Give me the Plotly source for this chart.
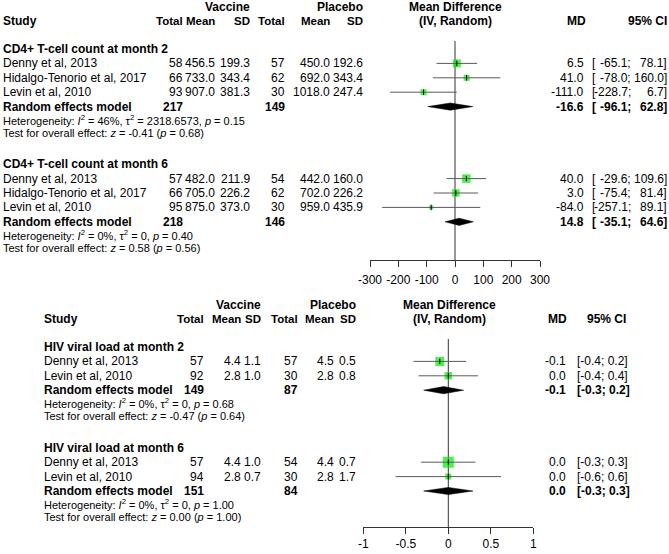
import plotly.graph_objects as go

FONT = "Liberation Sans, Arial, Helvetica, sans-serif"
W, H = 669, 554

# ------------------------------------------------------------------ data
cd4_studies = ["Denny et al, 2013", "Hidalgo-Tenorio et al, 2017", "Levin et al, 2010"]
hiv_studies = ["Denny et al, 2013", "Levin et al, 2010"]

# CD4+ T-cell count at month 2
cd4_m2_title = "CD4+ T-cell count at month 2"
cd4_m2_vac_n = [58, 66, 93]
cd4_m2_vac_mean = [456.5, 733.0, 907.0]
cd4_m2_vac_sd = [199.3, 343.4, 381.3]
cd4_m2_pla_n = [57, 62, 30]
cd4_m2_pla_mean = [450.0, 692.0, 1018.0]
cd4_m2_pla_sd = [192.6, 343.4, 247.4]
cd4_m2_md = [6.5, 41.0, -111.0]
cd4_m2_lo = [-65.1, -78.0, -228.7]
cd4_m2_hi = [78.1, 160.0, 6.7]
cd4_m2_pool = [-16.6, -96.1, 62.8]
cd4_m2_tot = [217, 149]
cd4_m2_het = ["46%", "2318.6573", "0.15"]
cd4_m2_test = ["-0.41", "0.68"]

# CD4+ T-cell count at month 6
cd4_m6_title = "CD4+ T-cell count at month 6"
cd4_m6_vac_n = [57, 66, 95]
cd4_m6_vac_mean = [482.0, 705.0, 875.0]
cd4_m6_vac_sd = [211.9, 226.2, 373.0]
cd4_m6_pla_n = [54, 62, 30]
cd4_m6_pla_mean = [442.0, 702.0, 959.0]
cd4_m6_pla_sd = [160.0, 226.2, 435.9]
cd4_m6_md = [40.0, 3.0, -84.0]
cd4_m6_lo = [-29.6, -75.4, -257.1]
cd4_m6_hi = [109.6, 81.4, 89.1]
cd4_m6_pool = [14.8, -35.1, 64.6]
cd4_m6_tot = [218, 146]
cd4_m6_het = ["0%", "0", "0.40"]
cd4_m6_test = ["0.58", "0.56"]

# HIV viral load at month 2
hiv_m2_title = "HIV viral load at month 2"
hiv_m2_vac_n = [57, 92]
hiv_m2_vac_mean = [4.4, 2.8]
hiv_m2_vac_sd = [1.1, 1.0]
hiv_m2_pla_n = [57, 30]
hiv_m2_pla_mean = [4.5, 2.8]
hiv_m2_pla_sd = [0.5, 0.8]
hiv_m2_md = [-0.1, 0.0]
hiv_m2_lo = [-0.41, -0.35]
hiv_m2_hi = [0.21, 0.35]
hiv_m2_ci_text = [["-0.4", "0.2"], ["-0.4", "0.4"]]
hiv_m2_pool = [-0.056, -0.29, 0.18]
hiv_m2_pool_text = ["-0.1", "-0.3", "0.2"]
hiv_m2_tot = [149, 87]
hiv_m2_het = ["0%", "0", "0.68"]
hiv_m2_test = ["-0.47", "0.64"]

# HIV viral load at month 6
hiv_m6_title = "HIV viral load at month 6"
hiv_m6_vac_n = [57, 94]
hiv_m6_vac_mean = [4.4, 2.8]
hiv_m6_vac_sd = [1.0, 0.7]
hiv_m6_pla_n = [54, 30]
hiv_m6_pla_mean = [4.4, 2.8]
hiv_m6_pla_sd = [0.7, 1.7]
hiv_m6_md = [0.0, 0.0]
hiv_m6_lo = [-0.32, -0.62]
hiv_m6_hi = [0.32, 0.62]
hiv_m6_ci_text = [["-0.3", "0.3"], ["-0.6", "0.6"]]
hiv_m6_pool = [0.0, -0.29, 0.29]
hiv_m6_pool_text = ["0.0", "-0.3", "0.3"]
hiv_m6_tot = [151, 84]
hiv_m6_het = ["0%", "0", "1.00"]
hiv_m6_test = ["0.00", "1.00"]

top_ticks = [-300, -200, -100, 0, 100, 200, 300]
bot_ticks = [-1, -0.5, 0, 0.5, 1]
bot_ticktext = ["-1", "-0.5", "0", "0.5", "1"]

# ------------------------------------------------------------------ styles
GREEN = "#00ee00"
LINE = "#5a5a5a"
ROW_PX = 14.4

groups_top = [
    dict(row=0, title=cd4_m2_title, studies=cd4_studies, vn=cd4_m2_vac_n, vm=cd4_m2_vac_mean,
         vs=cd4_m2_vac_sd, pn=cd4_m2_pla_n, pm=cd4_m2_pla_mean, ps=cd4_m2_pla_sd, md=cd4_m2_md,
         lo=cd4_m2_lo, hi=cd4_m2_hi, pool=cd4_m2_pool, tot=cd4_m2_tot, het=cd4_m2_het,
         test=cd4_m2_test, sizes=[8, 6, 6]),
    dict(row=8, title=cd4_m6_title, studies=cd4_studies, vn=cd4_m6_vac_n, vm=cd4_m6_vac_mean,
         vs=cd4_m6_vac_sd, pn=cd4_m6_pla_n, pm=cd4_m6_pla_mean, ps=cd4_m6_pla_sd, md=cd4_m6_md,
         lo=cd4_m6_lo, hi=cd4_m6_hi, pool=cd4_m6_pool, tot=cd4_m6_tot, het=cd4_m6_het,
         test=cd4_m6_test, sizes=[8.5, 7.5, 4]),
]
groups_bot = [
    dict(row=0, title=hiv_m2_title, studies=hiv_studies, vn=hiv_m2_vac_n, vm=hiv_m2_vac_mean,
         vs=hiv_m2_vac_sd, pn=hiv_m2_pla_n, pm=hiv_m2_pla_mean, ps=hiv_m2_pla_sd, md=hiv_m2_md,
         lo=hiv_m2_lo, hi=hiv_m2_hi, ci_text=hiv_m2_ci_text, pool=hiv_m2_pool,
         pool_text=hiv_m2_pool_text, tot=hiv_m2_tot, het=hiv_m2_het,
         test=hiv_m2_test, sizes=[9, 7.5]),
    dict(row=7, title=hiv_m6_title, studies=hiv_studies, vn=hiv_m6_vac_n, vm=hiv_m6_vac_mean,
         vs=hiv_m6_vac_sd, pn=hiv_m6_pla_n, pm=hiv_m6_pla_mean, ps=hiv_m6_pla_sd, md=hiv_m6_md,
         lo=hiv_m6_lo, hi=hiv_m6_hi, ci_text=hiv_m6_ci_text, pool=hiv_m6_pool,
         pool_text=hiv_m6_pool_text, tot=hiv_m6_tot, het=hiv_m6_het,
         test=hiv_m6_test, sizes=[11, 6]),
]

top_cols = dict(study=2, vn=184, vm=216, vs=251, pn=286, pm=331, ps=364, md=585,
                ci_l=590.5, ci_mid=632, ci_r=667.5, split_ci=True, hdr_md=587, hdr_ci=668,
                center=455, top_row0=49, axis_px=260, zero_top=41)
bot_cols = dict(study=43, vn=205, vm=242, vs=262, pn=299, pm=335, ps=357, md=567,
                ci_l=576, split_ci=False, hdr_md=568, hdr_ci=627,
                center=449, top_row0=347, axis_px=527, zero_top=339)

fig = go.Figure()
anns = []
shapes = []


def add(x, row, text, anchor, yref, size=12, bold=False):
    if bold:
        text = f"<b>{text}</b>"
    anns.append(dict(x=x / W, xref="paper", y=row, yref=yref, text=text, showarrow=False,
                     xanchor=anchor, yanchor="middle", borderpad=0,
                     font=dict(family=FONT, size=size, color="black")))


def build(groups, cols, xref, yref):
    c = cols
    h1, h2 = -2.95, -1.95
    add(c["vs"], h1, "Vaccine", "right", yref, bold=True)
    add(c["ps"], h1, "Placebo", "right", yref, bold=True)
    add(c["center"], h1, "Mean Difference", "center", yref, bold=True)
    add(c["center"], h2, "(IV, Random)", "center", yref, bold=True)
    add(c["study"], h2, "Study", "left", yref, bold=True)
    for key, lab in [("vn", "Total"), ("vm", "Mean"), ("vs", "SD"),
                     ("pn", "Total"), ("pm", "Mean"), ("ps", "SD")]:
        add(c[key], h2, lab, "right", yref, size=11.5, bold=True)
    add(c["hdr_md"], h2, "MD", "right", yref, bold=True)
    add(c["hdr_ci"], h2, "95% CI", "right", yref, bold=True)

    lx, ly, sx, sy, ss = [], [], [], [], []
    for g in groups:
        r0 = g["row"]
        add(c["study"], r0, g["title"], "left", yref, bold=True)
        for i, name in enumerate(g["studies"]):
            r = r0 + 1 + i
            add(c["study"], r, name, "left", yref)
            add(c["vn"], r, str(g["vn"][i]), "right", yref)
            add(c["vm"], r, f"{g['vm'][i]:.1f}", "right", yref)
            add(c["vs"], r, f"{g['vs'][i]:.1f}", "right", yref)
            add(c["pn"], r, str(g["pn"][i]), "right", yref)
            add(c["pm"], r, f"{g['pm'][i]:.1f}", "right", yref)
            add(c["ps"], r, f"{g['ps'][i]:.1f}", "right", yref)
            add(c["md"], r, f"{g['md'][i]:.1f}", "right", yref)
            if c["split_ci"]:
                add(c["ci_l"], r, "[", "left", yref)
                add(c["ci_mid"], r, f"{g['lo'][i]:.1f};", "right", yref)
                add(c["ci_r"], r, f"{g['hi'][i]:.1f}]", "right", yref)
            else:
                lo_s, hi_s = g["ci_text"][i]
                add(c["ci_l"], r, f"[{lo_s}; {hi_s}]", "left", yref)
            lx += [g["lo"][i], g["hi"][i], None]
            ly += [r, r, None]
            sx.append(g["md"][i])
            sy.append(r)
            ss.append(g["sizes"][i])
        rr = r0 + 1 + len(g["studies"])
        add(c["study"], rr, "Random effects model", "left", yref, bold=True)
        add(c["vn"], rr, str(g["tot"][0]), "right", yref, bold=True)
        add(c["pn"], rr, str(g["tot"][1]), "right", yref, bold=True)
        est, plo, phi = g["pool"]
        if c["split_ci"]:
            add(c["md"], rr, f"{est:.1f}", "right", yref, bold=True)
            add(c["ci_l"], rr, "[", "left", yref, bold=True)
            add(c["ci_mid"], rr, f"{plo:.1f};", "right", yref, bold=True)
            add(c["ci_r"], rr, f"{phi:.1f}]", "right", yref, bold=True)
        else:
            pe, pl, ph = g["pool_text"]
            add(c["md"], rr, pe, "right", yref, bold=True)
            add(c["ci_l"], rr, f"[{pl}; {ph}]", "left", yref, bold=True)
        het = g["het"]
        add(c["study"], rr + 0.9,
            f"Heterogeneity: <i>I</i><sup>2</sup> = {het[0]}, \u03c4<sup>2</sup> = {het[1]}, <i>p</i> = {het[2]}",
            "left", yref, size=11)
        add(c["study"], rr + 1.8,
            f"Test for overall effect: <i>z</i> = {g['test'][0]} (<i>p</i> = {g['test'][1]})",
            "left", yref, size=11)
        hh = 3.6 / ROW_PX
        fig.add_trace(go.Scatter(x=[plo, est, phi, est, plo], y=[rr, rr - hh, rr, rr + hh, rr],
                                 mode="lines", fill="toself", fillcolor="black",
                                 line=dict(color="black", width=0.5), xaxis=xref, yaxis=yref,
                                 hoverinfo="skip", showlegend=False))
    fig.add_trace(go.Scatter(x=sx, y=sy, mode="markers", xaxis=xref, yaxis=yref,
                             marker=dict(symbol="square", size=ss, color=GREEN, line=dict(width=0)),
                             hoverinfo="skip", showlegend=False))
    fig.add_trace(go.Scatter(x=lx, y=ly, mode="lines", xaxis=xref, yaxis=yref,
                             line=dict(color=LINE, width=1), hoverinfo="skip", showlegend=False))
    fig.add_trace(go.Scatter(x=sx, y=sy, mode="markers", xaxis=xref, yaxis=yref,
                             marker=dict(symbol="line-ns", size=4, line=dict(color="black", width=1)),
                             hoverinfo="skip", showlegend=False))
    axis_row = (c["axis_px"] - c["top_row0"]) / ROW_PX
    top_row = (c["zero_top"] - c["top_row0"]) / ROW_PX
    shapes.append(dict(type="line", xref=xref, yref=yref, x0=0, x1=0, y0=top_row, y1=axis_row,
                       line=dict(color="#333333", width=1), layer="below"))


build(groups_top, top_cols, "x", "y")
build(groups_bot, bot_cols, "x2", "y2")


def yrange(row0_px):
    return [(H - row0_px) / ROW_PX, -row0_px / ROW_PX]


axis_common = dict(showgrid=False, zeroline=False, showline=True, linecolor="#333333",
                   linewidth=1, ticks="outside", ticklen=6, tickcolor="#333333", tickwidth=1,
                   tickfont=dict(family=FONT, size=12, color="black"), anchor="free",
                   fixedrange=True)

fig.update_layout(
    width=W, height=H, margin=dict(l=0, r=0, t=0, b=0, autoexpand=False),
    paper_bgcolor="white", plot_bgcolor="rgba(0,0,0,0)",
    showlegend=False,
    xaxis=dict(domain=[370 / W, 540 / W], range=[-300, 300], tickvals=top_ticks,
               ticktext=[str(t) for t in top_ticks],
               position=1 - top_cols["axis_px"] / H, ticklabelstandoff=3, **axis_common),
    yaxis=dict(domain=[0, 1], range=yrange(top_cols["top_row0"]), visible=False, fixedrange=True),
    xaxis2=dict(domain=[363.3 / W, 533.3 / W], range=[-1, 1], tickvals=bot_ticks,
                ticktext=bot_ticktext, position=1 - bot_cols["axis_px"] / H,
                ticklabelstandoff=0, **axis_common),
    yaxis2=dict(domain=[0, 1], range=yrange(bot_cols["top_row0"]), visible=False,
                fixedrange=True, anchor="x2"),
    annotations=anns,
    shapes=shapes,
)

fig.write_html("out.html", config={"displayModeBar": False},
               post_script="document.body.style.margin='0';")
